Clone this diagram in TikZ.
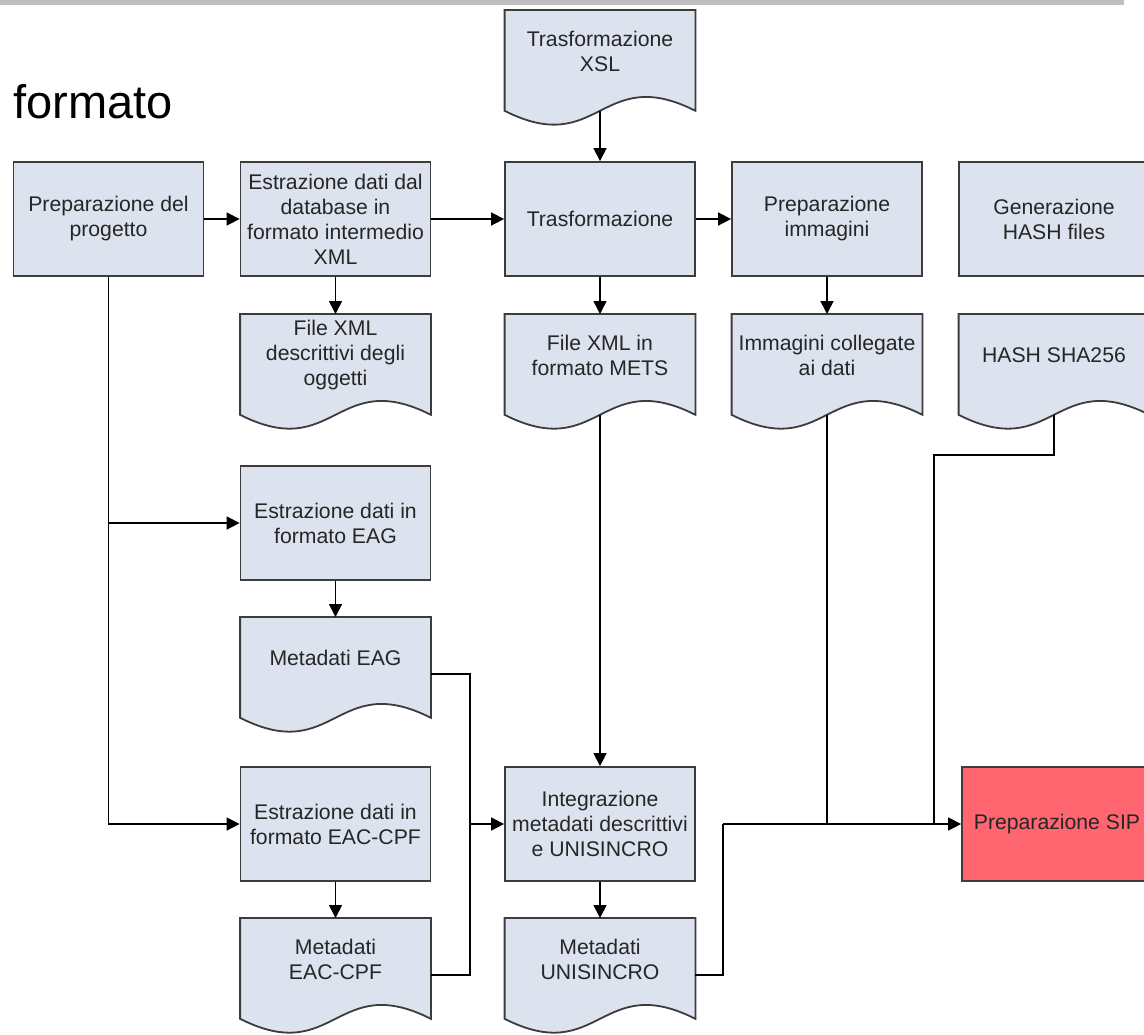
\documentclass[tikz,border=0pt]{standalone}
\usepackage{fontspec}
\setmainfont{Liberation Sans}
\usetikzlibrary{arrows.meta,calc,backgrounds}
\definecolor{procfill}{HTML}{DCE3EE}
\definecolor{sipfill}{HTML}{FF6670}
\definecolor{edgegray}{HTML}{3C3C3C}
\definecolor{ink}{HTML}{262626}
\tikzset{
  boxfont/.style={font=\fontsize{10.6}{12.5}\selectfont},
  procbox/.style={draw=edgegray, line width=0.9pt, fill=procfill, minimum width=95pt, minimum height=57pt,
    align=center, text=ink, inner sep=1pt, boxfont},
  docnode/.style={minimum width=95pt, minimum height=41pt, anchor=north, align=center, text=ink,
    inner sep=1pt, boxfont},
  docpaint/.style={draw=edgegray, line width=0.9pt, fill=procfill},
  wire/.style={line width=0.8pt, black},
  conn/.style={wire, -{Triangle[length=6.5pt,width=6.5pt]}},
}

\begin{document}
\begin{tikzpicture}[x=0.5pt,y=-0.5pt]
  \useasboundingbox (0,0) rectangle (1144,1034);
  \fill[black!25] (0,0) rectangle (1124,5);
  \node[anchor=base west, inner sep=0pt, font=\fontsize{23.5}{28}\selectfont] (ttl) at (13,118) {formato};

  % process boxes
  \node[procbox] (prep) at (108.5,219) {Preparazione del\\progetto};
  \node[procbox] (extrdb) at (335.5,219) {Estrazione dati dal\\database in\\formato intermedio\\XML};
  \node[procbox] (trasf) at (600,219) {Trasformazione};
  \node[procbox] (prepimg) at (827,219) {Preparazione\\immagini};
  \node[procbox] (genhash) at (1054,219) {Generazione\\HASH files};
  \node[procbox] (eag) at (335.5,523) {Estrazione dati in\\formato EAG};
  \node[procbox] (eac) at (335.5,824) {Estrazione dati in\\formato EAC-CPF};
  \node[procbox] (integ) at (600,824) {Integrazione\\metadati descrittivi\\e UNISINCRO};
  \node[procbox, fill=sipfill] (sip) at (1057,824) {Preparazione SIP};

  % documents
  \node[docnode] (xsl) at (600,10) {Trasformazione\\XSL};
  \node[docnode] (fdescr) at (335.5,314) {File XML\\descrittivi degli\\oggetti};
  \node[docnode] (mets) at (600,314) {File XML in\\formato METS};
  \node[docnode] (immcoll) at (827,314) {Immagini collegate\\ai dati};
  \node[docnode] (hashsha) at (1054,314) {HASH SHA256};
  \node[docnode] (mdeag) at (335.5,617) {Metadati EAG};
  \node[docnode] (mdeac) at (335.5,918) {Metadati\\EAC-CPF};
  \node[docnode] (mduni) at (600,918) {Metadati\\UNISINCRO};

  \begin{scope}[on background layer]
    \foreach \d in {xsl,fdescr,mets,immcoll,hashsha,mdeag,mdeac,mduni}{
      \draw[docpaint] (\d.north west) -- ($(\d.south west)+(0,18)$)
        .. controls +(95,48) and +(-95,-48) .. ($(\d.south east)+(0,18)$)
        -- (\d.north east) -- cycle;
      \coordinate (\d-w) at ($(\d.south)+(0,18)$);
      \coordinate (\d-r) at ($(\d.north east)+(0,57)$);
    }
  \end{scope}

  % junctions
  \coordinate (jl) at (470,824);
  \coordinate (jr) at (723,824);
  \coordinate (jh) at (934,455);

  % connectors
  \draw[conn] (prep) -- (extrdb);
  \draw[conn] (extrdb) -- (trasf);
  \draw[conn] (trasf) -- (prepimg);
  \draw[conn] (xsl-w) -- (trasf);
  \draw[conn] (extrdb) -- (fdescr);
  \draw[conn] (trasf) -- (mets);
  \draw[conn] (prepimg) -- (immcoll);
  \draw[conn] (prep.south) |- (eag.west);
  \draw[conn] (prep.south) |- (eac.west);
  \draw[conn] (eag) -- (mdeag);
  \draw[conn] (eac) -- (mdeac);
  \draw[wire] (mdeag-r) -| (jl);
  \draw[wire] (mdeac-r) -| (jl);
  \draw[conn] (jl) -- (integ.west);
  \draw[conn] (mets-w) -- (integ);
  \draw[conn] (integ) -- (mduni);
  \draw[wire] (mduni-r) -| (jr);
  \draw[conn] (jr) -- (sip.west);
  \draw[wire] (immcoll-w) -- (immcoll-w |- sip.west);
  \draw[wire] (hashsha-w) |- (jh) -- (jh |- sip.west);
\end{tikzpicture}
\end{document}
